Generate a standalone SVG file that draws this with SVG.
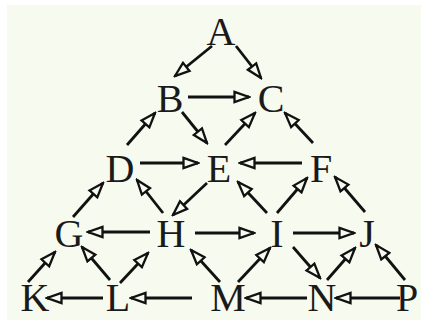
<svg xmlns="http://www.w3.org/2000/svg" width="421" height="320" viewBox="0 0 421 320">
<style>
.n{font-family:"Liberation Serif","Times New Roman",serif;font-size:40px;fill:#1a1a1a;text-anchor:middle}
.e line{stroke:#111;stroke-width:2.8;marker-end:url(#ah)}
</style>
<defs>
<marker id="ah" markerUnits="userSpaceOnUse" viewBox="0 0 18 14" refX="16" refY="7" markerWidth="18" markerHeight="14" orient="auto">
<path d="M1.5,1.8 L16,7 L1.5,12.2 Z" fill="#f7faef" stroke="#111" stroke-width="2.3" stroke-linejoin="miter"/>
</marker>
</defs>
<rect width="421" height="320" fill="#ffffff"/>
<rect x="7" y="5" width="414" height="315" fill="#f7faef"/>
<g class="e" id="edges">
<line x1="212" y1="46" x2="175" y2="76"/>
<line x1="236" y1="46" x2="261" y2="78"/>
<line x1="188" y1="97" x2="249" y2="97"/>
<line x1="127" y1="145" x2="155" y2="113"/>
<line x1="182" y1="112" x2="207" y2="143"/>
<line x1="225" y1="145" x2="255" y2="113"/>
<line x1="313" y1="143" x2="285" y2="113"/>
<line x1="140" y1="163" x2="198" y2="163"/>
<line x1="302" y1="163" x2="240" y2="163"/>
<line x1="73" y1="217" x2="103" y2="183"/>
<line x1="163" y1="213" x2="137" y2="180"/>
<line x1="207" y1="183" x2="173" y2="215"/>
<line x1="267" y1="213" x2="238" y2="182"/>
<line x1="277" y1="213" x2="307" y2="178"/>
<line x1="365" y1="212" x2="335" y2="177"/>
<line x1="150" y1="232" x2="88" y2="232"/>
<line x1="195" y1="233" x2="254" y2="233"/>
<line x1="293" y1="233" x2="354" y2="233"/>
<line x1="28" y1="282" x2="55" y2="252"/>
<line x1="110" y1="280" x2="82" y2="247"/>
<line x1="120" y1="283" x2="148" y2="253"/>
<line x1="220" y1="282" x2="191" y2="250"/>
<line x1="238" y1="282" x2="270" y2="248"/>
<line x1="293" y1="247" x2="320" y2="278"/>
<line x1="327" y1="280" x2="355" y2="248"/>
<line x1="405" y1="280" x2="376" y2="245"/>
<line x1="103" y1="298" x2="47" y2="298"/>
<line x1="192" y1="298" x2="131" y2="298"/>
<line x1="307" y1="298" x2="246" y2="298"/>
<line x1="400" y1="298" x2="336" y2="298"/>
</g>
<g id="A"><text class="n" x="221" y="45">A</text></g>
<g id="B"><text class="n" x="170" y="112">B</text></g>
<g id="C"><text class="n" x="271" y="112">C</text></g>
<g id="D"><text class="n" x="120" y="182">D</text></g>
<g id="E"><text class="n" x="219" y="182">E</text></g>
<g id="F"><text class="n" x="321" y="182">F</text></g>
<g id="G"><text class="n" x="69" y="247">G</text></g>
<g id="H"><text class="n" x="171" y="247">H</text></g>
<g id="I"><text class="n" x="277" y="247">I</text></g>
<g id="J"><text class="n" x="367" y="247">J</text></g>
<g id="K"><text class="n" x="35" y="311">K</text></g>
<g id="L"><text class="n" x="118" y="311">L</text></g>
<g id="M"><text class="n" x="228" y="311">M</text></g>
<g id="N"><text class="n" x="322" y="311">N</text></g>
<g id="P"><text class="n" x="407" y="311">P</text></g>
</svg>
